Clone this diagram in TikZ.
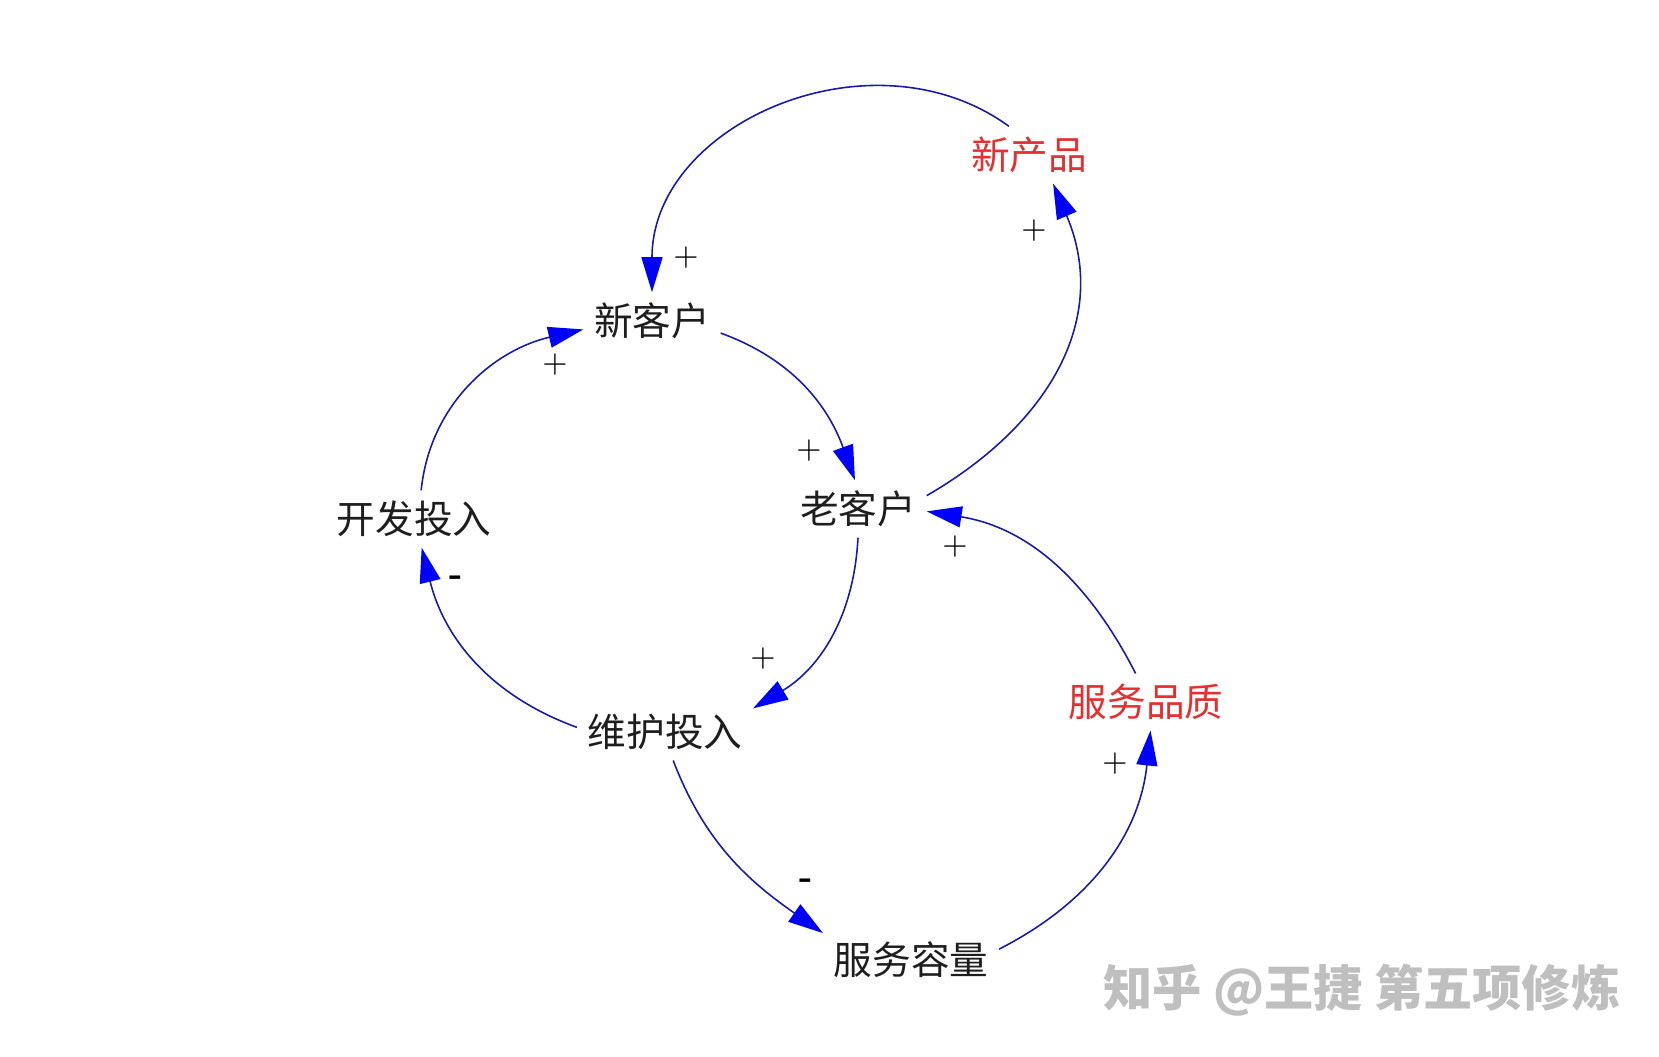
\documentclass[tikz,border=0pt]{standalone}
\usepackage{fontspec}
\newfontfamily\cjk{Noto Sans CJK SC}
\usepackage{xcolor}
\usepackage{tikz}
\usetikzlibrary{arrows.meta, positioning}

\definecolor{linkblue}{RGB}{25,25,170}
\definecolor{varred}{RGB}{228,48,48}
\definecolor{vartext}{RGB}{30,30,30}

\begin{document}
\begin{tikzpicture}[
      var/.style={inner sep=1mm, text=vartext, font=\cjk\fontsize{11}{13}\selectfont},
      hot/.style={var, text=varred},
      sign/.style={inner sep=0pt, font=\fontsize{9}{10}\selectfont},
      neg/.style={inner sep=0pt, font=\bfseries\fontsize{10}{12}\selectfont},
      wmtext/.style={inner sep=0pt, text=black!25, font=\cjk\bfseries\fontsize{14}{16}\selectfont},
      link/.style={-{Triangle[length=3.5mm, width=2.1mm, color=blue]}, draw=linkblue, line width=0.45pt}
    ]
      \useasboundingbox (0,0) rectangle (16.59,10.57);

      \node[hot] (product) at (10.29,9.02) {新产品};
      \node[var] (newcust) at (6.52,7.36) {新客户};
      \node[var] (develop) at (4.14,5.38) {开发投入};
      \node[var] (oldcust) at (8.58,5.48) {老客户};
      \node[var] (maintain) at (6.65,3.25) {维护投入};
      \node[hot] (quality) at (11.46,3.55) {服务品质};
      \node[var] (capacity) at (9.11,0.97) {服务容量};

      \draw[link] (product.125) to[out=144, in=90, looseness=1.1] (newcust.north);
      \draw[link] (oldcust.11) to[out=30, in=-67, looseness=1.1] (product.-50);
      \draw[link] (newcust.-10) to[out=-20, in=110] (oldcust.96);
      \draw[link] (develop.76) to[out=84, in=-167] (newcust.187);
      \draw[link] (maintain.177) to[out=160, in=-76] (develop.-75);
      \draw[link] (oldcust.south) to[out=-93, in=31] (maintain.15);
      \draw[link] (maintain.-74) to[out=-69, in=145] (capacity.163);
      \draw[link] (capacity.7) to[out=27, in=-96] (quality.-81);
      \draw[link] (quality.110) to[out=117, in=-9] (oldcust.-2);

      \node[sign] (s1) at (6.86,7.99) {+};
      \node[sign] (s2) at (10.34,8.26) {+};
      \node[sign] (s3) at (8.09,6.06) {+};
      \node[sign] (s4) at (5.55,6.92) {+};
      \node[neg] (s5) at (4.56,4.76) {-};
      \node[sign] (s6) at (7.63,3.98) {+};
      \node[neg] (s7) at (8.06,1.73) {-};
      \node[sign] (s8) at (11.15,2.93) {+};
      \node[sign] (s9) at (9.55,5.10) {+};

      \node[wmtext] (zhihu) at (13.62,0.67) {知乎 @王捷 第五项修炼};
    \end{tikzpicture}
\end{document}
